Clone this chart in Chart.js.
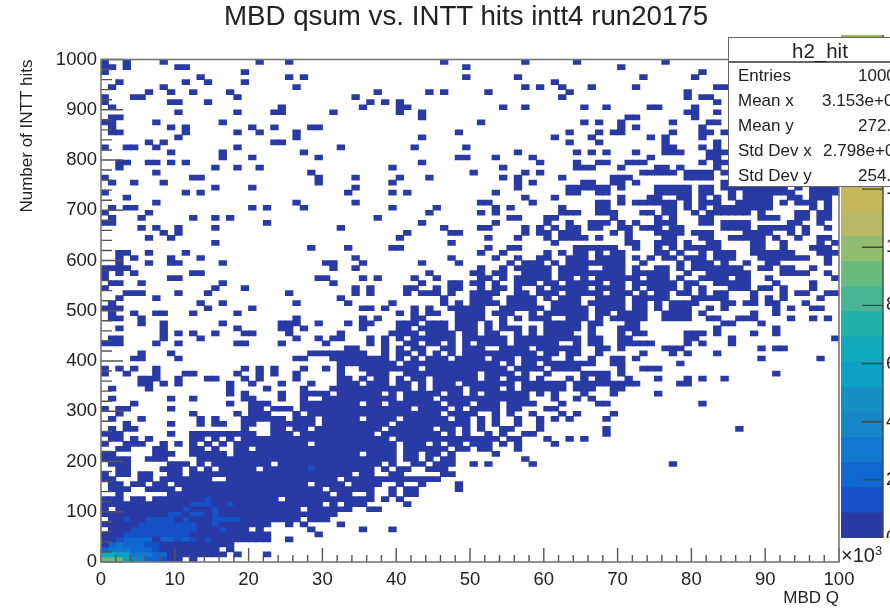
<!DOCTYPE html>
<html><head><meta charset="utf-8">
<script src="https://cdn.jsdelivr.net/npm/chart.js@4"></script>
<style>
html,body{margin:0;padding:0;background:#fff;overflow:hidden;width:890px;height:611px}
canvas{position:absolute;filter:blur(.35px)}
#main{left:0;top:0}
#pal{left:841px;top:35px}
.t{position:absolute;font-family:"Liberation Sans",Arial,sans-serif;color:#222;white-space:nowrap;filter:blur(.25px)}
#box{position:absolute;left:728px;top:37px;width:170px;height:150px;background:#fff;border:1.5px solid #666;box-sizing:border-box;overflow:hidden}
#sep{position:absolute;left:0;top:23px;width:100%;height:1.5px;background:#666}
</style></head><body>
<canvas id="main" width="890" height="611"></canvas>
<canvas id="pal" width="49" height="503"></canvas>
<div id="box"><div id="sep"></div></div>
<script>
// Histogram rows, top (990-1000) to bottom (0-10): occupied x-bins, as "a-b" runs
const rowsTop = [
"0 3 8 21 25 46 57 64 76","0-1 3 10-11 49 70","0 19 81","13 25 27 49 56 73 80","2 11 14 19 61",
"1 8 26 57 59 62 66 72 83-84","6 9 12 17 37 44 46 52 63 79","0 4-5 18 34 62 79 81-82","0 9-10 14 36 38 40 83",
"1 24 35 40-41 54 57 65 68 74-75 80","10 18 23-24 31 40 43 79-80 83","1-2 43 71-72 80","0-1 7 16 51 65 67 70 77 82-83",
"1 9 11 20 23 28-29 70 72 81","1-2 11 18 21 26 48 63 67 69-70 77 81-82 84","10 26 43 61 66 74 76 81","6 8 23-24 63 67 76 83",
"0 3-4 7 18 32 42 49 76-77 81 83","9 16 27 56 64 66 68 72 76-78 82-84","16 20 29 48-49 53 58 74 82-83",
"2-3 6-7 9 11 43 59 64 67-68 71-73 81 83-84","2 15 18 21 39 54 64-66 70 75-76 78 83","7 28 50 57 59 73-77 79-82 84",
"0 12-13 29 34 40 44 54 56 62 69-71 79-82","1 4 8 29 39 56 58 65-66 69-70 72 84"];
const rowsUpperMid = [
"15 20 34 56 63-68 70 75-79 81-82 84-92 94 96-99",
"0 11 13 33 39 41 53 63-64 67-68 75-79 81-82 85 87-93 96-99",
"3 57 61 70 74-75 78-79 81 83 85 87-90 93-94 96-98",
"7 26 34 51-52 58 67-68 70 72-77 79 81-83 86-90 92 94-96 98",
"1 3-4 20 22 27 39 45 53 55 62 67-68 76-77 79 81 83-90 96 98",
"0 6 44 51 53 62-64 67-69 73-74 76-77 80 82-87 89 94-95 97-98",
"1 5 12 15 17 37 55-56 60-61 69 75 77 81-82 89-91 94-95 97-98",
"0-1 22 43 53 60 63 66-68 70 72 75-77 81-82 84-87 93-94 97",
"5 7 10 15 32 46 51-52 57 59 61 63-64 66-67 70-71 73-75 77-78 84-87 89-93 95 98",
"8 10 41 47-48 57 59-60 62-64 69 71 75-78 80-82 87-90 93 95",
"6 9 40 52 56 60 62-65 67 71 76-77 81-82 85-89 91 94 97-98",
"15 47 61 71-72 75-77 79 82-83 88-89 92 97 99",
"28 33 39-40 52 55-56 64-69 72 75 77 79-83 88-89 92 96-98",
"2-3 6 11 51 54 60 62 64-65 67 69-70 75-76 78 81 83-85 88-93 97-99",
"2 4 9 13 34 47 53 56 59-60 63-65 67-70 72 74 76-77 79-81 83-85 89-95 98",
"2 6 9-10 16 30-31 35 43 48 55 57-59 61 63-70 73 78 80-82 84 87 90-91 98",
"0-3 31 34 51 54 56-60 62-65 68-70 72 75-76 78 80-86 89-90 92-93 96",
"0 2 4 12-13 44 50-51 53-54 57-60 62-70 72-76 79 82-87 92-95 98",
"0 9-10 29-30 35 37 42 45 51-52 54 56-60 62-63 65 67-72 74-76 78 81-84 86-87 90 99",
"1-2 5 16 31 43 47-48 50-51 53 56-58 60-61 63-67 69-70 72-77 79-80 83-87 91 96",
"0 15 19 34 36 41-42 45 47-48 51 53-54 56 59 61-65 67-70 72 74-77 79 81 85-87 89-90 92 96",
"3-5 10 14 25 34 36 41 43-45 47 50-53 56-57 59-61 63-67 69-71 73 75-76 78-79 81 83-84 88 92 94-95 98-99",
"2 7 32 46 50-52 55-58 60 62-64 67-70 72-76 80-84 88 90 92 97",
"1 13 16 26 33 39 46 48 50-53 55-58 61-64 66-70 72-73 75 77-80 84-85 87-88 90-91 95",
"0-2 14 20 35-36 38 42 44 47-51 54-59 61-65 67-70 72-73 75 77-79 82 84 91 93 96-97"];
const rowsLowerMid = [
"1 4 7-8 12 18 40 42 44-45 48-51 53-55 58 60-65 67-68 70-73 76-79 81 88 91",
"1-2 5 26 35 37 42-43 48-51 54 56 58-60 63-65 67 69-73 76-79 82-83 86-88 93 96 98",
"5 8 16 24-26 29 33 35-36 40-42 44-46 48-50 52 54 60-64 66-67 71-72 84-85 89",
"2 8 18 24-25 27 35 40-41 43-46 48-50 52 54-56 58 60-64 66 70-72 83 91",
"8 10 12 15 19-20 25 32 39-42 44-47 49-50 52-53 56 58 60-63 66 70 72-73 79-81 83 88 91",
"1-2 8 13 26 29 31-32 36 38 40 42-47 49-54 56-64 66-67 70-71 79-80 85 99",
"0-2 7 10 18-19 24 30 36 38 41-42 44-45 47 49 51-54 56-61 64 66-67 70-74 79 81 85",
"33-34 38 40 42-43 46-47 49-51 54-57 59-64 67-68 70 76-78 89 91-92",
"5 9 28-35 38 40-41 43 45 47 49-58 60-61 63-64 67 73 77 79 83",
"4-5 10 26-27 31-38 40 42 44-46 48-51 53-55 57-60 63 66 69-70 72 89 97",
"32-39 41-53 55 57-58 60-66 69-70 78",
"0 2 4 7 19 21 23 27 30 32 35-42 44-54 56-59 61-64 70 73-75",
"0 3 7 11-12 18 21 23 26 32 36-38 41-50 52-55 57 60 65-68 70 91",
"5-7 10 14-15 19 21 26 32-33 35 37-38 40 42-43 45-50 52-53 55-57 59 63 65 67-68 71 75 79 81 84",
"5-6 8 10 17 20 24 28 32-34 36-38 40-41 43 45-47 49-55 57-62 64-72 78-79",
"1 6 17 22 27 31-41 43 45-48 50-53 55 57-62 64-66 69-70",
"17 19 24 27-30 32-37 39 41-45 47-48 50 52-57 59 61 65 69 75",
"1 9 12 19-20 24 27 30-39 41-44 46-57 61 64 66",
"4 17 20-22 27-34 36-37 39-45 47-49 51-53 55-58 62 67-68 81",
"0 2-3 9 20-21 23-25 27-41 43-46 48 50-53 55-56 60-61",
"2 12 18 20-22 26 28-45 47-50 53 55 58 62 64 69",
"1 5 13 15 19-24 26-28 30-34 36-39 41-46 48-49 51 53 56 59 61 63 68",
"3 9 13 15-16 19-20 23-28 30-38 40-49 51 53 56 59",
"1 3-4 19 23-24 26-27 29-37 39-44 46-47 49 51 54-55 59 68 86",
"0-2 9 12-20 23-25 27-36 38-45 47 49 52 54 57-58 68"];
const rowsBottom = [
"1-2 4 6 12-13 15 17 19-38 40-53 55-56 60 63 65",
"0 3-5 8 10 12 14 16 18-27 29-39 41-43 45 47-48 50-52 54 56 61",
"2-3 7-8 12-13 15 18-19 21-39 41-46 48-49 51-52 56",
"0-1 7-9 12-16 18-34 36-39 41-42 44-45 47 53",
"0-3 6-8 13-39 41-42 44 46-47 57",
"1-3 9-11 13 15-22 24-37 39 42-43 45-47 50 52 58 77",
"2-3 8-10 12 14 16-20 22-36 38 40-41 44-46",
"0 2-3 5-6 9-10 12-33 35-36 39-40 46-47",
"0-1 5-6 8-14 17-31 33-45",
"1-2 4-5 7-8 10-27 29-32 34-37 40 43 48",
"1-3 6-9 11-29 31-36 39 41-42 48",
"2 9-30 32-33 36 39 41-42",
"0-2 4-5 7-23 25-36 38 40",
"0-29 31 33-35 41",
"0 2-26 28-33 36-37",
"0-31",
"1-26 28-30","0-22 25 27 32","1-19 21 28 35 39","0-22 29","0-22 25","0-17","0-15 17","0-16 18 22","0-10 12"];
// Rows with counts above the first colour band: [row, per-bin band number, "." leaves the bin as it is]
const hotRows = [
[81,"............................2"],
[88,"............222..2"],[87,"..............2"],[89,"...........2...2"],[90,".........22.22.2"],
[91,"...2..2222.2...2222"],[92,".....22222222..2"],[93,"....222222222...2"],[94,"...222222222"],
[95,"..2333313323212"],[96,".3433322"],[97,"34443332"],[98,"887744433"],[99,"bbb755332"]];
const bandColors = ["#2a3aa5","#1552c8","#0f68d2","#1278d0","#1786c8","#1590c5","#0ca0c5","#10aabc","#22b0aa","#45b594","#6aba80","#92bc70","#b8b965","#c4b85a","#b8b65a","#aeb65a","#a6b55c","#a0b45c","#9cb45c","#9cb45c"];
const xMajorTicks = [0,10,20,30,40,50,60,70,80,90,100];
const xMinorTicks = [2,4,6,8,12,14,16,18,22,24,26,28,32,34,36,38,42,44,46,48,52,54,56,58,62,64,66,68,72,74,76,78,82,84,86,88,92,94,96,98];
const yMajorTicks = [0,100,200,300,400,500,600,700,800,900,1000];
const yMinorTicks = [20,40,60,80,120,140,160,180,220,240,260,280,320,340,360,380,420,440,460,480,520,540,560,580,620,640,660,680,720,740,760,780,820,840,860,880,920,940,960,980];
const zTicks = [0,2,4,6,8,10,12,14,16];
const titleText = "MBD qsum vs. INTT hits intt4 run20175";
const xTitle = "MBD Q", yTitle = "Number of INTT hits";
const statLines = [["Entries","1000000"],["Mean x","3.153e+01"],["Mean y","272.5"],["Std Dev x","2.798e+01"],["Std Dev y","254.2"]];
const statValueLeft = [858,822,858,823,858];
const zBandWidth = 0.865;

const allRows = rowsTop.concat(rowsUpperMid,rowsLowerMid,rowsBottom);
const grid = allRows.map(s=>{const a=new Array(100).fill(0);s.split(" ").forEach(p=>{const q=p.split("-");const lo=+q[0],hi=+(q[1]??q[0]);for(let c=lo;c<=hi;c++)a[c]=1;});return a;});
hotRows.forEach(([r,s])=>{[...s].forEach((ch,c)=>{if(ch!==".")grid[r][c]=parseInt(ch,16);});});
const byLevel = {};
for(let c=0;c<100;c++){let r=0;while(r<100){const l=grid[r][c];if(!l){r++;continue;}let e=r;while(e+1<100&&grid[e+1][c]===l)e++;(byLevel[l]=byLevel[l]||[]).push({x:c+.5,y:[990-10*e,1000-10*r]});r=e+1;}}
const datasets = Object.keys(byLevel).map(Number).sort((a,b)=>a-b).map(l=>({data:byLevel[l],backgroundColor:bandColors[l-1],barThickness:7.7,borderWidth:0,borderSkipped:false,grouped:false}));

const tickPlugin={id:"rootTicks",afterDatasetsDraw(ch){const g=ch.ctx,a=ch.chartArea,X=ch.scales.x,Y=ch.scales.y;g.save();g.strokeStyle="#555";g.lineWidth=1.4;g.beginPath();
 const vx=(v,l)=>{const p=X.getPixelForValue(v);g.moveTo(p,a.bottom);g.lineTo(p,a.bottom-l);};
 const hy=(v,l)=>{const p=Y.getPixelForValue(v);g.moveTo(a.left,p);g.lineTo(a.left+l,p);};
 xMajorTicks.forEach(v=>vx(v,14));xMinorTicks.forEach(v=>vx(v,7));yMajorTicks.forEach(v=>hy(v,22));yMinorTicks.forEach(v=>hy(v,11));g.stroke();
 g.strokeStyle="#777";g.lineWidth=1.6;g.strokeRect(a.left,a.top,a.right-a.left,a.bottom-a.top);g.restore();}};
const tFont={family:"'Liberation Sans',Arial,sans-serif",size:18.5};
const plain=v=>String(v);
Chart.defaults.animation=false;
new Chart(document.getElementById("main"),{type:"bar",data:{datasets},plugins:[tickPlugin],options:{responsive:false,animation:false,
 layout:{padding:{left:0,right:51,top:59.5,bottom:0}},
 plugins:{legend:{display:false},tooltip:{enabled:false},title:{display:false}},
 scales:{
  x:{type:"linear",offset:false,min:0,max:100,grid:{display:false,drawTicks:false,offset:false},border:{display:false},afterFit(s){s.height=49;},
     ticks:{stepSize:10,font:tFont,color:"#222",padding:7,maxRotation:0,autoSkip:false,callback:plain},
     title:{display:true,text:xTitle,align:"end",color:"#222",font:{family:tFont.family,size:17},padding:{top:0,bottom:2}}},
  y:{type:"linear",min:0,max:1000,grid:{display:false,drawTicks:false},border:{display:false},afterFit(s){s.width=101;},
     ticks:{stepSize:100,font:tFont,color:"#222",padding:4,autoSkip:false,callback:plain},
     title:{display:true,text:yTitle,align:"end",color:"#222",font:{family:tFont.family,size:17},padding:{top:17,bottom:0}}}
 }}});
const palTicks={id:"palTicks",afterDatasetsDraw(ch){const g=ch.ctx,a=ch.chartArea,Y=ch.scales.y;g.save();g.strokeStyle="#444";g.lineWidth=1.4;g.beginPath();zTicks.forEach(v=>{const p=Y.getPixelForValue(v);g.moveTo(a.right,p);g.lineTo(a.right-21,p);});g.moveTo(a.right,a.top);g.lineTo(a.right,a.bottom);g.stroke();g.restore();}};
new Chart(document.getElementById("pal"),{type:"bar",data:{labels:[""],datasets:bandColors.map(c=>({data:[zBandWidth],backgroundColor:c,borderWidth:0,barPercentage:1,categoryPercentage:1}))},plugins:[palTicks],
 options:{responsive:false,animation:false,layout:{padding:0},plugins:{legend:{display:false},tooltip:{enabled:false},title:{display:false}},
 scales:{x:{stacked:true,display:false},y:{stacked:true,position:"right",min:0,max:17.3,grid:{display:false,drawTicks:false},border:{display:false},afterFit(s){s.width=7;s.paddingTop=0;s.paddingBottom=0;},ticks:{stepSize:2,font:tFont,color:"#222",padding:3,autoSkip:false,callback:plain}}}}});
// Text overlays
const add=(txt,l,t,sz,html)=>{const d=document.createElement("div");d.className="t";d.style.left=l+"px";d.style.top=t+"px";d.style.fontSize=sz+"px";if(html)d.innerHTML=txt;else d.textContent=txt;document.body.appendChild(d);return d;};
add(titleText,224,0,27.7);
add("h2_hit",792,39,20.5);
statLines.forEach(([k,v],i)=>{const y=66+i*25.1;add(k,738,y,17);add(v,statValueLeft[i],y,17);});
add('×10<sup style="font-size:13px;line-height:0;vertical-align:7px">3</sup>',841,544,20,true);
</script></body></html>
